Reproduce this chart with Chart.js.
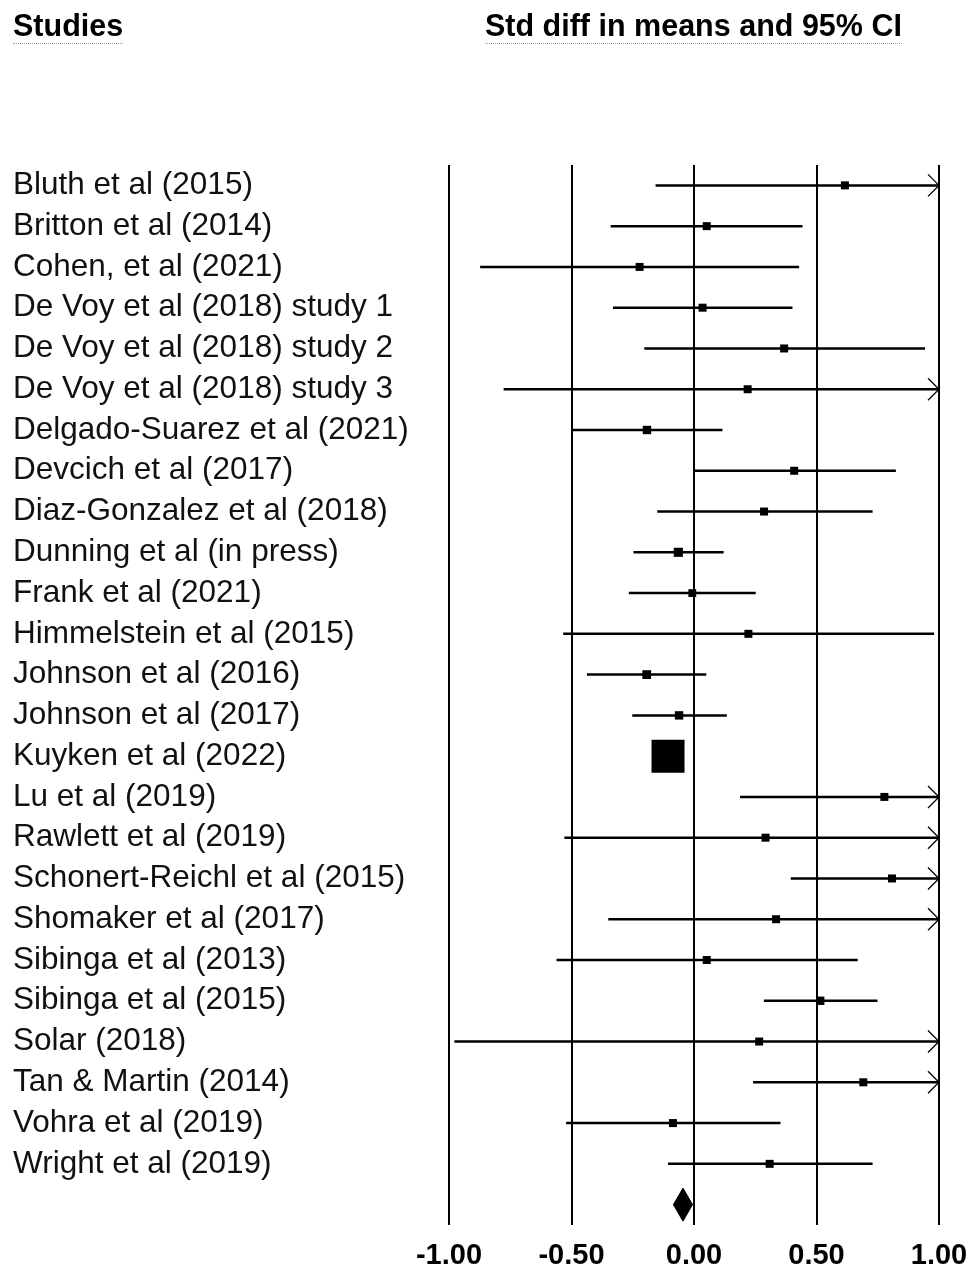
<!DOCTYPE html>
<html>
<head>
<meta charset="utf-8">
<script src="https://cdn.jsdelivr.net/npm/chart.js@4/dist/chart.umd.min.js"></script>
<style>
  body { margin: 0; background: #fff; }
  #wrap { position: relative; width: 972px; height: 1270px; }
  #forest { position: absolute; left: 0; top: 0; }
  .head {
    position: absolute; top: 10px;
    font: bold 30.5px "Liberation Sans", Arial, sans-serif; line-height: 30px;
    color: #000; padding-bottom: 3px; border-bottom: 1px dotted #999;
  }
</style>
</head>
<body>
<div id="wrap">
  <canvas id="forest" width="972" height="1270"></canvas>
  <div class="head" style="left:13px">Studies</div>
  <div class="head" style="left:485px">Std diff in means and 95% CI</div>
</div>
<script>
const studies = [
  "Bluth et al (2015)", "Britton et al (2014)", "Cohen, et al (2021)",
  "De Voy et al (2018) study 1", "De Voy et al (2018) study 2", "De Voy et al (2018) study 3",
  "Delgado-Suarez et al (2021)", "Devcich et al (2017)", "Diaz-Gonzalez et al (2018)",
  "Dunning et al (in press)", "Frank et al (2021)", "Himmelstein et al (2015)",
  "Johnson et al (2016)", "Johnson et al (2017)", "Kuyken et al (2022)",
  "Lu et al (2019)", "Rawlett et al (2019)", "Schonert-Reichl et al (2015)",
  "Shomaker et al (2017)", "Sibinga et al (2013)", "Sibinga et al (2015)",
  "Solar (2018)", "Tan & Martin (2014)", "Vohra et al (2019)", "Wright et al (2019)"
];
const estimate = [0.616, 0.052, -0.222, 0.035, 0.368, 0.219, -0.192, 0.409, 0.286, -0.064, -0.007, 0.222, -0.193,
  -0.061, -0.106, 0.777, 0.292, 0.808, 0.335, 0.052, 0.515, 0.266, 0.691, -0.086, 0.309];
const lower = [-0.157, -0.340, -0.873, -0.331, -0.203, -0.777, -0.499, 0.000, -0.150, -0.247, -0.266, -0.534, -0.437,
  -0.252, -0.150, 0.188, -0.529, 0.395, -0.350, -0.561, 0.285, -0.978, 0.241, -0.522, -0.106];
const upper = [1.389, 0.443, 0.429, 0.402, 0.943, 1.215, 0.116, 0.824, 0.729, 0.121, 0.252, 0.980, 0.050,
  0.134, -0.062, 1.366, 1.113, 1.221, 1.020, 0.668, 0.749, 1.510, 1.141, 0.353, 0.729];
const weight = [1, 1, 1, 1, 1, 1, 1.1, 1, 1, 1.3, 0.95, 1, 1.2, 1.1, 17, 1, 1, 1, 1, 1, 1.1, 1, 1, 1, 1];
const overall = { est: -0.045, lo: -0.084, hi: -0.006 };
const xTicks = [-1, -0.5, 0, 0.5, 1];

const summaryRow = studies.length + 1;
const points = studies.map((s, i) => ({ x: estimate[i], y: i + 1 }));
const diamond = [
  { x: overall.lo, y: summaryRow }, { x: overall.est, y: summaryRow - 0.405 },
  { x: overall.hi, y: summaryRow }, { x: overall.est, y: summaryRow + 0.405 },
  { x: overall.lo, y: summaryRow }
];

// whiskers + arrow heads where the interval runs past the axis
const whiskers = {
  id: 'whiskers',
  beforeDatasetsDraw(chart) {
    const { ctx, scales: { x, y } } = chart;
    ctx.save();
    ctx.strokeStyle = '#000';
    studies.forEach((s, i) => {
      const py = y.getPixelForValue(i + 1);
      const x0 = x.getPixelForValue(Math.max(lower[i], x.min));
      const x1 = x.getPixelForValue(Math.min(upper[i], x.max));
      ctx.lineWidth = 2.5;
      ctx.beginPath();
      ctx.moveTo(x0, py);
      ctx.lineTo(x1, py);
      ctx.stroke();
      if (upper[i] > x.max) {
        ctx.lineWidth = 1.3;
        ctx.beginPath();
        ctx.moveTo(x1 - 11, py - 11);
        ctx.lineTo(x1, py);
        ctx.lineTo(x1 - 11, py + 11);
        ctx.stroke();
      }
    });
    ctx.restore();
  }
};

new Chart(document.getElementById('forest'), {
  type: 'scatter',
  data: {
    datasets: [
      {
        data: points,
        pointStyle: 'rect',
        pointRadius: weight.map(w => 8 * Math.sqrt(w) / 1.414),
        backgroundColor: '#000',
        borderWidth: 0
      },
      {
        data: diamond,
        showLine: true,
        fill: 'shape',
        backgroundColor: '#000',
        borderColor: '#000',
        borderWidth: 1,
        pointRadius: 0,
        tension: 0
      }
    ]
  },
  options: {
    responsive: false,
    animation: false,
    layout: { padding: { left: 13, right: 33, top: 165, bottom: 1 } },
    plugins: { legend: { display: false }, tooltip: { enabled: false } },
    scales: {
      x: {
        type: 'linear', min: -1, max: 1,
        afterBuildTicks: s => { s.ticks = xTicks.map(v => ({ value: v })); },
        afterFit: s => { s.height = 44; },
        grid: { color: '#000', lineWidth: 2, drawTicks: false },
        border: { display: false },
        ticks: {
          padding: 4,
          color: '#000',
          font: { family: '"Liberation Sans", Arial, sans-serif', size: 29, weight: 'bold', lineHeight: 1.85 },
          callback: v => v.toFixed(2)
        }
      },
      y: {
        type: 'linear', reverse: true, min: 0.5, max: summaryRow + 0.5,
        afterBuildTicks: s => { s.ticks = studies.map((n, i) => ({ value: i + 1 })); },
        afterFit: s => { s.width = 436; },
        grid: { display: false },
        border: { display: false },
        ticks: {
          autoSkip: false,
          crossAlign: 'far',
          color: '#111',
          font: { family: '"Liberation Sans", Arial, sans-serif', size: 31.5 },
          callback: v => studies[v - 1] || ''
        }
      }
    }
  },
  plugins: [whiskers]
});
</script>
</body>
</html>
